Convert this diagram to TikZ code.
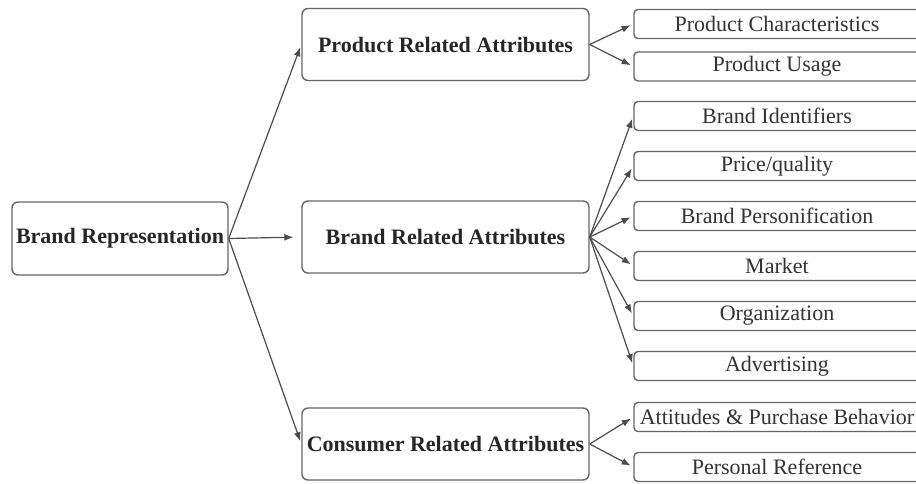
\documentclass[tikz,border=0pt]{standalone}
\usepackage{fontspec}
\setmainfont{Liberation Serif}
\newfontfamily\boxfont{Liberation Serif}
\usetikzlibrary{arrows.meta}

\tikzset{
  rootbox/.style={draw=black!60, line width=1.4pt, rounded corners=6pt,
    minimum width=216pt, minimum height=73pt, inner sep=0pt,
    text=black!85, font=\boxfont\bfseries\fontsize{22}{24}\selectfont},
  groupbox/.style={rootbox, minimum width=287pt, minimum height=72pt},
  itembox/.style={draw=black!60, line width=1.4pt, rounded corners=4pt,
    minimum width=286pt, minimum height=29pt, inner sep=0pt,
    text=black!80, font=\boxfont\fontsize{22}{24}\selectfont},
  link/.style={draw=black!70, line width=1.2pt, shorten >=3pt,
    -{Latex[length=9pt,width=7pt]}}
}

\begin{document}
\begin{tikzpicture}[x=1pt,y=-1pt]

      \clip (0,0) rectangle (916,483);
      \fill[white] (0,0) rectangle (916,483);

      % root of the tree
      \node[rootbox] (brand) at (120,238.5) {Brand Representation};

      % the three groups of attributes
      \node[groupbox] (product)  at (445.5,44.5) {Product Related Attributes};
      \node[groupbox] (brandrel) at (445.5,237)  {Brand Related Attributes};
      \node[groupbox] (consumer) at (445.5,444)  {Consumer Related Attributes};

      \draw[link] (brand.east) -- (product.west);
      \draw[link, shorten >=8pt] (brand.east) -- (brandrel.west);
      \draw[link] (brand.east) -- (consumer.west);

      % product related items
      \node[itembox] (charact) at (777,24)  {Product Characteristics};
      \node[itembox] (usage)   at (777,66.5) {Product Usage};
      \draw[link] (product.east) -- (charact.west);
      \draw[link] (product.east) -- (usage.west);

      % brand related items, one every 50pt
      \foreach \name/\txt [count=\i from 0] in {ident/Brand Identifiers,
          price/{Price/quality}, person/Brand Personification, market/Market,
          organiz/Organization, advert/Advertising}
      {
        \node[itembox] (\name) at (777,116+50*\i) {\txt};
        \draw[link] (brandrel.east) -- (\name.west);
      }

      % consumer related items
      \node[itembox] (attitude) at (777,417) {Attitudes \& Purchase Behavior};
      \node[itembox] (personal) at (777,467) {Personal Reference};
      \draw[link] (consumer.east) -- (attitude.west);
      \draw[link] (consumer.east) -- (personal.west);

\end{tikzpicture}
\end{document}
